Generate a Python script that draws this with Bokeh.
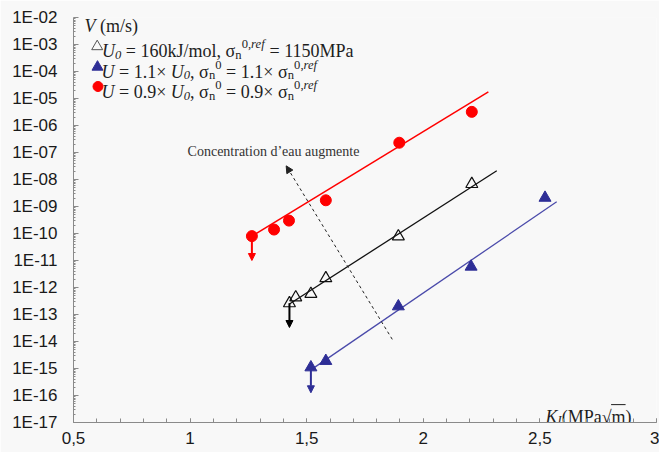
import numpy as np
from bokeh.plotting import figure
from bokeh.models import (FixedTicker, CustomJSTickFormatter, Arrow, NormalHead, Range1d)
from bokeh.core.properties import value
from bokeh.embed import file_html
from bokeh.resources import INLINE

# ---------------- data ----------------
# red circles: U = 0.9 U0
red_K = [1.265, 1.360, 1.424, 1.582, 1.897, 2.208]
red_V = [8.0e-11, 1.4e-10, 3.0e-10, 1.7e-9, 2.3e-7, 3.2e-6]
# open triangles: reference U0
black_K = [1.426, 1.453, 1.518, 1.582, 1.893, 2.208]
black_V = [2.6e-13, 4.3e-13, 5.8e-13, 2.2e-12, 7.8e-11, 6.8e-9]
# blue filled triangles: U = 1.1 U0
blue_K = [1.518, 1.582, 1.893, 2.205, 2.522]
blue_V = [1.1e-15, 1.9e-15, 2.0e-13, 5.9e-12, 2.1e-9]

# fitted lines (end points)
red_fit_K = [1.265, 2.279]
red_fit_V = [8.0e-11, 1.75e-5]
black_fit_K = [1.426, 2.315]
black_fit_V = [2.45e-13, 2.1e-8]
blue_fit_K = [1.518, 2.572]
blue_fit_V = [8.9e-16, 1.5e-9]

# "upper bound" arrows (K, V from, V to)
red_arrow = [1.265, 8.0e-11, 1.0e-11]
black_arrow = [1.426, 2.6e-13, 3.3e-14]
blue_arrow = [1.518, 1.1e-15, 1.26e-16]
# dashed arrow "Concentration d'eau augmente" (K0, V0, K1, V1)
trend_arrow = [1.867, 1.2e-14, 1.412, 3.2e-8]

x_ticks = [0.5, 1.0, 1.5, 2.0, 2.5, 3.0]
y_tick_exponents = list(range(-17, -1))

# ---------------- geometry ----------------
W, H = 659, 452
BL, BR, BT, BB = 73, 3, 17, 30
FRAME_W = W - BL - BR
FRAME_H = H - BT - BB
X0, X1 = 0.5, 3.0
E0, E1 = -17, -2
LEFT_PX = BL
TOP_PX = BT


def px2x(px):
    return X0 + (px - LEFT_PX) / FRAME_W * (X1 - X0)


def py2y(py):
    return 10 ** (E1 - (py - TOP_PX) / FRAME_H * (E1 - E0))


BG = "#f8f8f8"
p = figure(width=W, height=H, output_backend="svg", toolbar_location=None,
           x_range=Range1d(X0, X1), y_range=Range1d(10.0 ** E0, 10.0 ** E1),
           y_axis_type="log",
           min_border_left=BL, min_border_right=BR, min_border_top=BT, min_border_bottom=BB)
p.background_fill_color = BG
p.border_fill_color = BG
p.outline_line_color = None
p.grid.visible = False

AX_COL = "#8a8a8a"
xa = p.xaxis[0]
xa.ticker = FixedTicker(ticks=x_ticks, minor_ticks=[round(0.5 + 0.1 * i, 2) for i in range(26)])
xa.formatter = CustomJSTickFormatter(code="""
    return (Math.abs(tick % 1) < 1e-9 ? tick.toFixed(0) : tick.toFixed(1)).replace('.', ',');
""")
ya = p.yaxis[0]
ya.ticker = FixedTicker(ticks=[10.0 ** e for e in y_tick_exponents],
                        minor_ticks=[m * 10.0 ** e for e in y_tick_exponents[:-1] for m in range(2, 10)])
ya.formatter = CustomJSTickFormatter(code="""
    const e = Math.round(Math.log10(tick));
    const a = Math.abs(e);
    return "1E" + (e < 0 ? "-" : "+") + (a < 10 ? "0" + a : "" + a);
""")
for ax in (xa, ya):
    ax.axis_line_color = AX_COL
    ax.major_tick_line_color = AX_COL
    ax.minor_tick_line_color = AX_COL
    ax.major_tick_out = 0
    ax.minor_tick_out = 0
    ax.major_label_text_font = "Liberation Sans"
    ax.major_label_text_font_size = "17px"
    ax.major_label_text_color = "#1a1a1a"
xa.major_tick_in = 4
xa.minor_tick_in = 4
xa.major_label_standoff = 9
ya.major_tick_in = 5
ya.minor_tick_in = 2
ya.major_label_standoff = 16

RED = "#ff0000"
BLUE = "#2e2e96"
BLUE_LINE = "#4a4aaa"

# fit lines
p.line(red_fit_K, red_fit_V, line_color=RED, line_width=1.5)
p.line(black_fit_K, black_fit_V, line_color="#111111", line_width=1.3)
p.line(blue_fit_K, blue_fit_V, line_color=BLUE_LINE, line_width=1.3)

# arrows
def vert_arrow(a, col, w=2):
    p.add_layout(Arrow(end=NormalHead(size=7, fill_color=col, line_color=col, line_width=1),
                       x_start=a[0], y_start=a[1], x_end=a[0], y_end=a[2],
                       line_color=col, line_width=w))

vert_arrow(red_arrow, RED)
vert_arrow(black_arrow, "#000000")
vert_arrow(blue_arrow, BLUE)
p.add_layout(Arrow(end=NormalHead(size=7, fill_color="#222222", line_color="#222222", line_width=1),
                   x_start=trend_arrow[0], y_start=trend_arrow[1],
                   x_end=trend_arrow[2], y_end=trend_arrow[3],
                   line_color="#222222", line_width=1, line_dash="3 3"))

# markers
p.scatter(red_K, red_V, marker="circle", size=11, fill_color=RED, line_color=RED)
p.scatter(black_K, black_V, marker="triangle", size=12, fill_color=None,
          line_color="#111111", line_width=1.2)
p.scatter(blue_K, blue_V, marker="triangle", size=12, fill_color=BLUE, line_color=BLUE)

# ---------------- texts ----------------
ROMAN_W = {' ': 250, '=': 564, '.': 250, ',': 250, '/': 278, '(': 333, ')': 333, '×': 564,
           'σ': 550, 'k': 500, 'J': 389, 'm': 778, 'o': 500, 'l': 278, 'M': 889, 'P': 556,
           'a': 444, 'n': 500, 'e': 444, 'r': 333, 'f': 333, 'U': 722, 'V': 722, '√': 549, 's': 389}
for d in "0123456789":
    ROMAN_W[d] = 500
ITAL_W = {'U': 722, 'V': 611, 'K': 667, 'I': 333, '0': 500, 'r': 389, 'e': 444, 'f': 278,
          ',': 250, 'n': 500}


def tw(s, italic, size):
    tab = ITAL_W if italic else ROMAN_W
    return sum(tab.get(c, ROMAN_W.get(c, 500)) for c in s) / 1000.0 * size


groups = {}


def add_text(italic, fs, color, x, y, s):
    key = (italic, round(fs, 2), color)
    g = groups.setdefault(key, ([], [], []))
    g[0].append(px2x(x))
    g[1].append(py2y(y))
    g[2].append(s)


def place(segments, x0, base, size, color):
    x = x0
    starts = []
    for s, it, sc, dy in segments:
        fs = size * sc
        body = s.lstrip(" ")
        lead = tw(s[:len(s) - len(body)], it, fs)
        body = body.rstrip(" ")
        if body:
            add_text(it, fs, color, x + lead, base + dy * size, body)
        starts.append(x + lead)
        x += tw(s, it, fs)
    starts.append(x)
    return starts


FS = 18
S = 0.7
SUB = 0.22
SUP = -0.38
TXT = "#1e1e1e"

# V (m/s)
place([("V", True, 1, 0), (" (m/s)", False, 1, 0)], 84, 25.5, FS, TXT)

# legend lines
place([("U", True, 1, 0), ("0", True, S, SUB), (" = 160kJ/mol, σ", False, 1, 0),
       ("n", False, S, SUB), ("0,", False, S, SUP), ("ref", True, S, SUP),
       (" = 1150MPa", False, 1, 0)], 101.5, 50.5, FS, TXT)
place([("U", True, 1, 0), (" = 1.1× ", False, 1, 0), ("U", True, 1, 0), ("0", True, S, SUB),
       (", σ", False, 1, 0), ("n", False, S, SUB), ("0", False, S, SUP),
       (" = 1.1× σ", False, 1, 0), ("n", False, S, SUB), ("0,", False, S, SUP),
       ("ref", True, S, SUP)], 101, 71, FS, TXT)
place([("U", True, 1, 0), (" = 0.9× ", False, 1, 0), ("U", True, 1, 0), ("0", True, S, SUB),
       (", σ", False, 1, 0), ("n", False, S, SUB), ("0", False, S, SUP),
       (" = 0.9× σ", False, 1, 0), ("n", False, S, SUB), ("0,", False, S, SUP),
       ("ref", True, S, SUP)], 101, 91.5, FS, TXT)

# legend markers
p.scatter([px2x(96.7)], [py2y(46)], marker="triangle", size=11, fill_color=None,
          line_color="#555555", line_width=1)
p.scatter([px2x(97)], [py2y(66.5)], marker="triangle", size=11, fill_color=BLUE, line_color=BLUE)
p.scatter([px2x(97.5)], [py2y(86)], marker="circle", size=10, fill_color=RED, line_color=RED)

# x-axis label K_I (MPa√m)
xs = place([("K", True, 1, 0), ("I", True, S, SUB), ("(MPa", False, 1, 0), ("√", False, 1, 0),
            ("m", False, 1, 0), (")", False, 1, 0)], 545, 416, FS, TXT)
OVL = 416 - 0.66 * FS
p.segment(x0=[px2x(xs[4] - 0.5)], y0=[py2y(OVL)], x1=[px2x(xs[5])], y1=[py2y(OVL)],
          line_color=TXT, line_width=1)

for (italic, fs, color), (gx, gy, gt) in groups.items():
    p.text(x=gx, y=gy, text=gt, text_font=value("Liberation Serif"),
           text_font_size=f"{fs}px", text_font_style="italic" if italic else "normal",
           text_color=color, text_align="left", text_baseline="alphabetic")

# annotation text
p.text(x=[px2x(273)], y=[py2y(150.5)], text=["Concentration d’eau augmente"],
       text_font=value("Liberation Serif"), text_font_size="14px", text_color="#333333",
       text_align="center", text_baseline="alphabetic")

open("out.html", "w").write(file_html(p, INLINE))
